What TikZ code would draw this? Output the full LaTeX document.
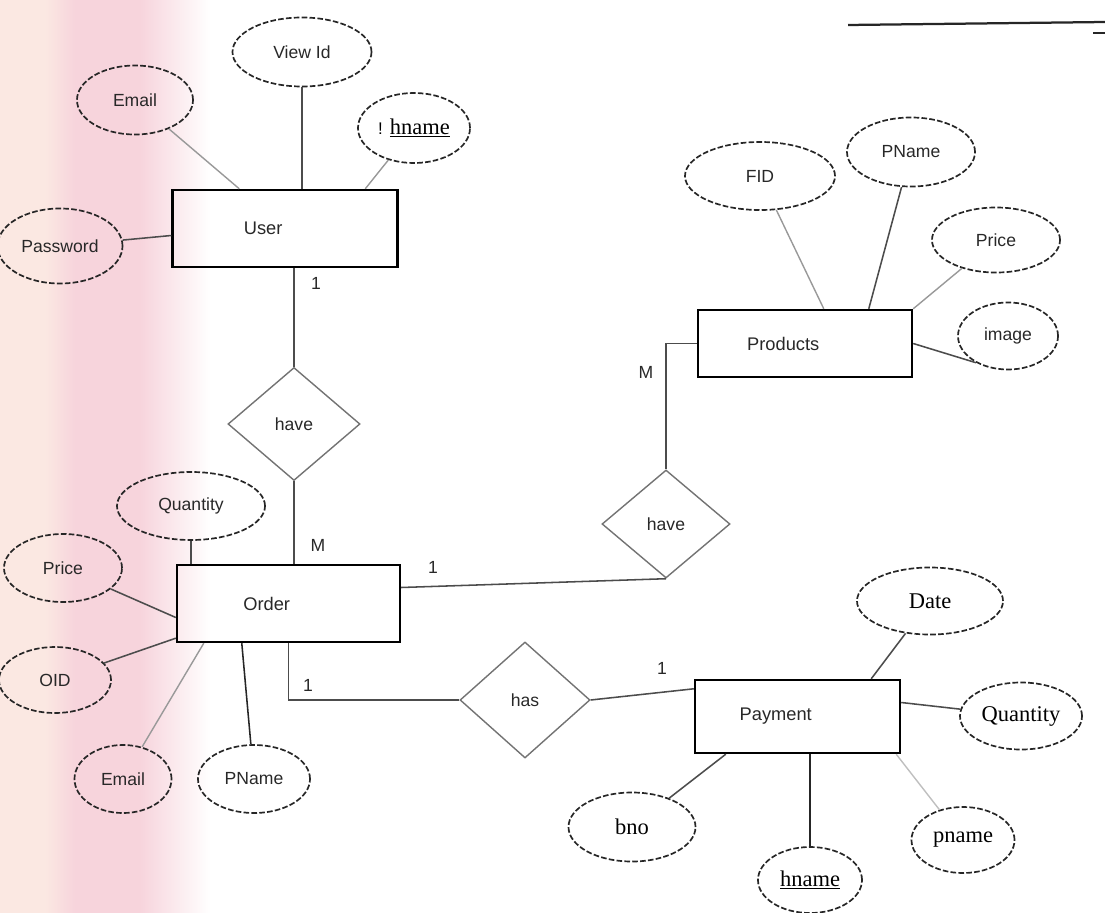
\documentclass[tikz,border=0pt]{standalone}
\usepackage{fontspec}
\setmainfont{Liberation Serif}
\newfontfamily\sansf{Liberation Sans}
\usetikzlibrary{shapes.geometric,calc}
\definecolor{peach}{RGB}{251,232,226}
\definecolor{pinkb}{RGB}{247,212,220}
\definecolor{inkc}{RGB}{40,40,40}
\tikzset{
  ent/.style={draw=black, line width=1.7pt, rectangle, inner sep=0pt,
    font=\sansf\fontsize{13}{15}\selectfont, text=inkc},
  attr/.style={ellipse, draw=black!85, dash pattern=on 4pt off 1.6pt, line width=1.2pt,
    inner sep=0pt, font=\sansf\fontsize{12.5}{15}\selectfont, text=inkc},
  sattr/.style={attr, font=\fontsize{16}{18}\selectfont, text=black},
  rel/.style={diamond, draw=black!55, line width=1pt, inner sep=0pt,
    font=\sansf\fontsize{12.5}{15}\selectfont, text=inkc},
  conn/.style={draw=black!70, line width=1.1pt},
  lconn/.style={draw=black!40, line width=1pt},
  card/.style={font=\sansf\fontsize{12.5}{15}\selectfont, text=inkc, inner sep=0pt},
}
\begin{document}
\begin{tikzpicture}[x=0.025cm, y=-0.025cm]
\useasboundingbox (0,0) rectangle (1105,913);
% background band
\fill[peach] (0,0) rectangle (50,913);
\shade[left color=peach, right color=pinkb] (45,0) rectangle (75,913);
\fill[pinkb] (75,0) rectangle (140,913);
\shade[left color=pinkb, right color=white] (140,0) rectangle (210,913);

% entities
\node[ent, minimum width=5.625cm, minimum height=1.925cm] (user) at (285,228.5) {User\hspace*{31pt}};
\node[ent, minimum width=5.575cm, minimum height=1.925cm] (order) at (288.5,603.5) {Order\hspace*{31pt}};
\node[ent, minimum width=5.35cm, minimum height=1.675cm] (products) at (805,343.5) {Products\hspace*{31pt}};
\node[ent, minimum width=5.125cm, minimum height=1.825cm] (payment) at (797.5,716.5) {Payment\hspace*{31pt}};

% relationships
\node[rel, minimum width=3.3cm, minimum height=2.825cm] (have1) at (294,424) {have};
\node[rel, minimum width=3.2cm, minimum height=2.7cm] (have2) at (666,524) {have};
\node[rel, minimum width=3.25cm, minimum height=2.9cm] (has) at (525,700) {has};

% attributes of User
\node[attr, minimum width=3.475cm, minimum height=1.725cm] (viewid) at (302,52) {View Id};
\node[attr, minimum width=2.9cm, minimum height=1.725cm] (email1) at (135,100) {Email};
\node[attr, minimum width=3.125cm, minimum height=1.875cm] (password) at (60,246) {Password};
\node[sattr, minimum width=2.8cm, minimum height=1.75cm] (hname1) at (414,128) {{\sansf\fontsize{12}{14}\selectfont !}\hspace{5pt}\underline{hname}};

% attributes of Order
\node[attr, minimum width=3.7cm, minimum height=1.7cm] (quantity1) at (191,506) {Quantity};
\node[attr, minimum width=2.95cm, minimum height=1.7cm] (price1) at (63,568) {Price};
\node[attr, minimum width=2.8cm, minimum height=1.65cm] (oid) at (55,680) {OID};
\node[attr, minimum width=2.425cm, minimum height=1.7cm] (email2) at (123,779) {Email};
\node[attr, minimum width=2.8cm, minimum height=1.7cm] (pname1) at (254,779) {PName};

% attributes of Products
\node[attr, minimum width=3.75cm, minimum height=1.7cm] (fid) at (760,176) {FID};
\node[attr, minimum width=3.2cm, minimum height=1.725cm] (pname2) at (911,152) {PName};
\node[attr, minimum width=3.2cm, minimum height=1.625cm] (price2) at (996,240) {Price};
\node[attr, minimum width=2.5cm, minimum height=1.675cm] (image) at (1008,336) {image};

% attributes of Payment
\node[sattr, minimum width=3.65cm, minimum height=1.675cm] (date) at (930,601) {Date};
\node[sattr, minimum width=3.05cm, minimum height=1.675cm] (quantity2) at (1021,716) {Quantity};
\node[sattr, minimum width=2.575cm, minimum height=1.65cm] (pname3) at (963,840) {pname};
\node[sattr, minimum width=3.175cm, minimum height=1.725cm] (bno) at (632,827) {bno};
\node[sattr, minimum width=2.6cm, minimum height=1.65cm] (hname2) at (810,880) {\underline{hname}};

% connectors: User
\draw[lconn] (email1) -- ($(user.north west)+(68,0)$);
\draw[conn] (viewid) -- (viewid |- user.north);
\draw[lconn] (hname1) -- ($(user.north west)+(194,0)$);
\draw[conn] (password) -- ($(user.west)+(0,7)$);
\draw[conn] (have1.north |- user.south) -- (have1.north);
\draw[conn] (have1.south) -- (have1.south |- order.north);

% connectors: Order
\draw[conn] (quantity1) -- (quantity1 |- order.north);
\draw[conn] (price1) -- ($(order.west)+(0,14)$);
\draw[conn] (oid) -- ($(order.south west)+(0,-5)$);
\draw[lconn] (email2) -- ($(order.south west)+(28,0)$);
\draw[conn, draw=black!85] (pname1) -- ($(order.south west)+(66,0)$);
\draw[conn] ($(order.east)+(0,-16)$) -- (have2.south);
\draw[conn] (have2.north) -- (have2.north |- products.west) -- (products.west);
\draw[conn] (order.south) -- (order.south |- has.west) -- (has.west);
\draw[conn] (has.east) -- ($(payment.north west)+(0,10)$);

% connectors: Products
\draw[lconn] (fid) -- ($(products.north west)+(127,0)$);
\draw[conn] (pname2) -- ($(products.north west)+(172,0)$);
\draw[lconn] (price2) -- (products.north east);
\draw[conn] (products.east) -- (image.220);

% connectors: Payment
\draw[conn] (date) -- ($(payment.north east)+(-30,0)$);
\draw[conn] (quantity2) -- ($(payment.east)+(0,-14)$);
\draw[lconn, draw=black!25] (pname3) -- ($(payment.south east)+(-5,0)$);
\draw[conn] (bno) -- ($(payment.south west)+(32,0)$);
\draw[conn, draw=black!85, line width=1.5pt] (hname2) -- (hname2 |- payment.south);

% cardinalities
\node[card] (c1) at (316,283) {1};
\node[card] (c2) at (318,545) {M};
\node[card] (c3) at (433,567) {1};
\node[card] (c4) at (646,372) {M};
\node[card] (c5) at (308,685) {1};
\node[card] (c6) at (662,668) {1};

% top-right rule
\coordinate (r1) at (848,25);
\coordinate (r2) at (1105,22);
\coordinate (r3) at (1093,33);
\coordinate (r4) at (1105,33);
\draw[line width=1.6pt, black!85] (r1) -- (r2);
\draw[line width=1.6pt, black!85] (r3) -- (r4);
\end{tikzpicture}
\end{document}
